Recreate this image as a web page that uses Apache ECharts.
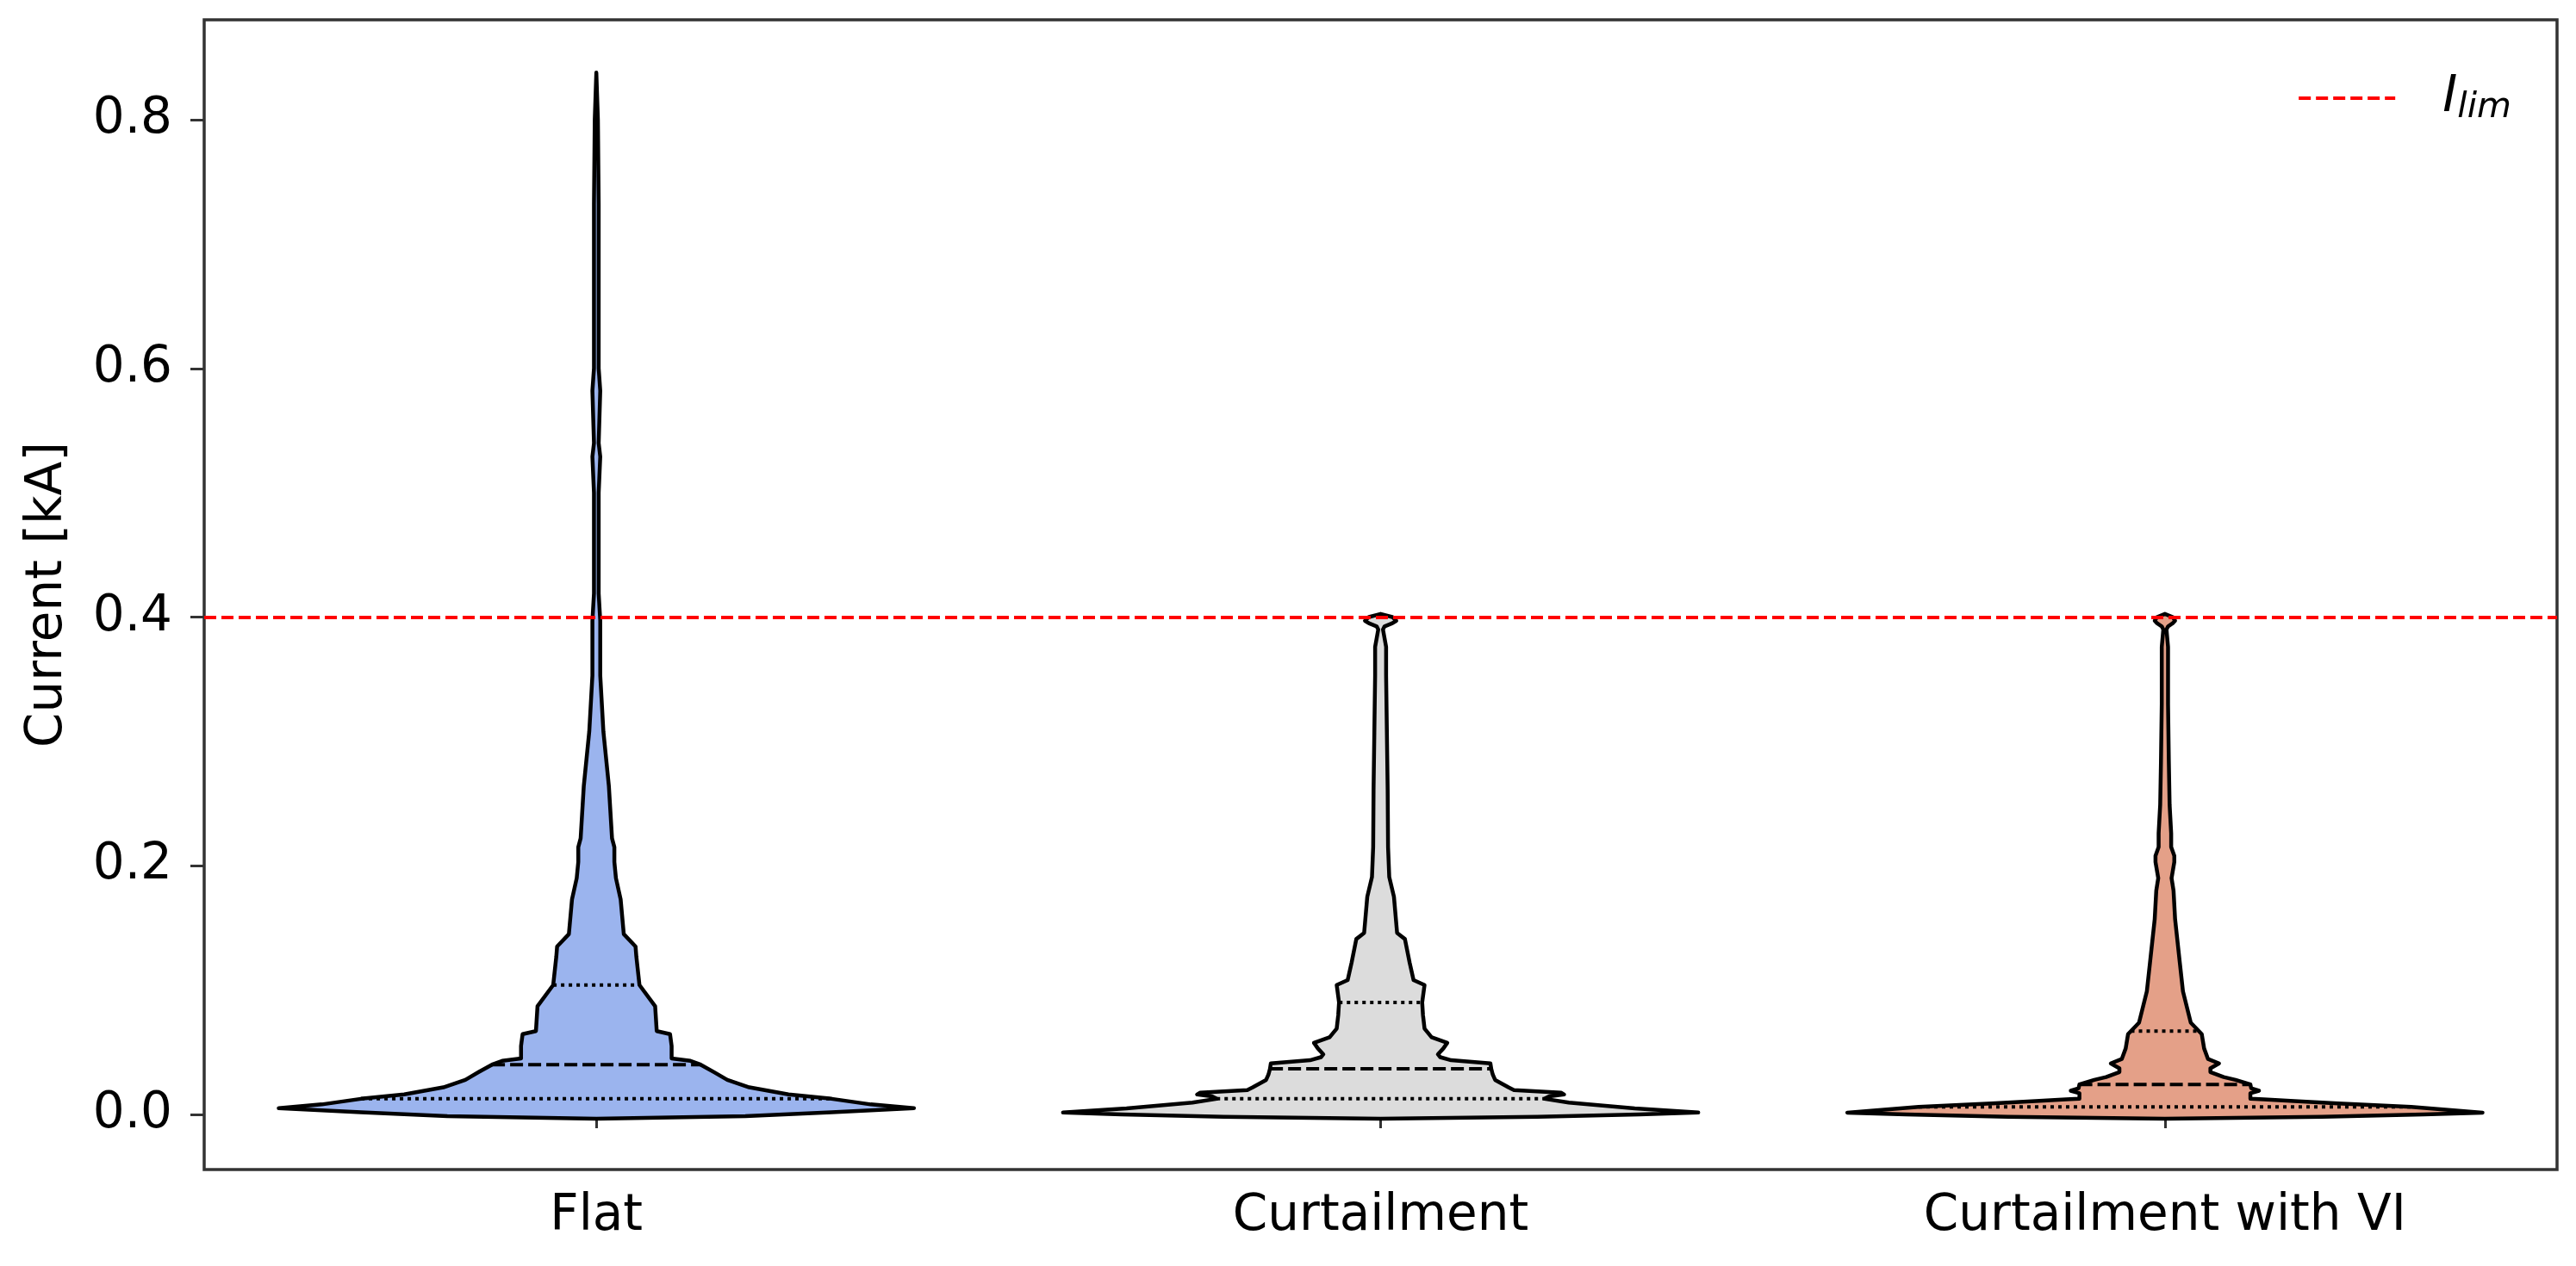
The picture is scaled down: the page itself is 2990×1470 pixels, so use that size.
<!DOCTYPE html>
<html>
<head>
    <meta charset="utf-8">
    <title>Current violins</title>
    <script src="https://cdn.jsdelivr.net/npm/echarts@6/dist/echarts.min.js"></script>
    <style>
        body { margin: 0; background: #fff; }
        #main { width: 2990px; height: 1470px; }
    </style>
</head>
<body>
<div id="main"></div>
<script>
// categories
const scenarios = ['Flat', 'Curtailment', 'Curtailment with VI'];
const fillColors = ['#9bb4ee', '#dcdcdc', '#e4a088'];
const yTicks = [0.0, 0.2, 0.4, 0.6, 0.8];
const iLim = 0.4;

// violin outlines: current value [kA] and half width (fraction of category band)
const flatY = [-0.0035, -0.0014, 0.0016, 0.005, 0.008, 0.0125, 0.016, 0.0217, 0.0277, 0.034, 0.040, 0.043, 0.045,
  0.055, 0.0645, 0.067, 0.087, 0.104, 0.127, 0.135, 0.145, 0.173, 0.19, 0.203, 0.215, 0.222, 0.264, 0.308,
  0.353, 0.397, 0.419, 0.50, 0.529, 0.54, 0.582, 0.60, 0.662, 0.732, 0.80, 0.838];
const flatW = [0, 0.19, 0.30, 0.405, 0.35, 0.30, 0.245, 0.195, 0.167, 0.15, 0.133, 0.12, 0.096,
  0.096, 0.094, 0.077, 0.075, 0.055, 0.051, 0.050, 0.035, 0.031, 0.025, 0.023, 0.023, 0.02, 0.016, 0.009,
  0.005, 0.005, 0.003, 0.003, 0.005, 0.003, 0.005, 0.003, 0.003, 0.003, 0.002, 0];
const flatQ = [0.0125, 0.040, 0.104];

const curtY = [-0.0035, -0.002, 0.0, 0.0015, 0.0048, 0.0094, 0.0125, 0.0145, 0.016, 0.0175, 0.0195, 0.0217, 0.0277,
  0.032, 0.0367, 0.041, 0.0435, 0.046, 0.0483, 0.053, 0.0575, 0.062, 0.069, 0.080, 0.090, 0.104, 0.108, 0.122,
  0.141, 0.146, 0.175, 0.191, 0.215, 0.261, 0.307, 0.353, 0.376, 0.390, 0.3925, 0.395, 0.397, 0.400, 0.4025];
const curtW = [0, 0.2, 0.33, 0.405, 0.324, 0.24, 0.209, 0.215, 0.234, 0.23, 0.17, 0.163, 0.146,
  0.143, 0.141, 0.14, 0.09, 0.076, 0.073, 0.08, 0.085, 0.065, 0.056, 0.054, 0.053, 0.056, 0.042, 0.037,
  0.031, 0.021, 0.017, 0.011, 0.0095, 0.009, 0.008, 0.007, 0.007, 0.003, 0.005, 0.015, 0.02, 0.015, 0];
const curtQ = [0.0125, 0.0367, 0.090];

const viY = [-0.0035, -0.002, 0.0, 0.0014, 0.006, 0.0087, 0.0106, 0.012, 0.0125, 0.017, 0.019, 0.021, 0.024,
  0.0277, 0.030, 0.034, 0.037, 0.041, 0.0445, 0.053, 0.0645, 0.0737, 0.099, 0.122, 0.157, 0.180, 0.19,
  0.203, 0.208, 0.215, 0.226, 0.249, 0.284, 0.33, 0.376, 0.390, 0.3925, 0.395, 0.397, 0.400, 0.4025];
const viW = [0, 0.2, 0.33, 0.405, 0.314, 0.221, 0.165, 0.126, 0.109, 0.109, 0.12, 0.11, 0.109,
  0.09, 0.075, 0.058, 0.058, 0.069, 0.055, 0.050, 0.047, 0.033, 0.023, 0.019, 0.013, 0.011, 0.0085,
  0.012, 0.012, 0.008, 0.008, 0.006, 0.005, 0.004, 0.004, 0.002, 0.004, 0.010, 0.013, 0.010, 0];
const viQ = [0.006, 0.024, 0.067];

const profY = [flatY, curtY, viY];
const profW = [flatW, curtW, viW];
const quartiles = [flatQ, curtQ, viQ];

function widthAt(ys, ws, v) {
  for (let k = 1; k < ys.length; k++) {
    if (v <= ys[k]) {
      const t = (v - ys[k - 1]) / (ys[k] - ys[k - 1]);
      return ws[k - 1] + t * (ws[k] - ws[k - 1]);
    }
  }
  return 0;
}

function renderViolin(params, api) {
  const i = api.value(0);
  const ys = profY[i], ws = profW[i];
  const cx = api.coord([i, 0])[0];
  const band = api.size([1, 0])[0];
  const right = [], left = [];
  for (let k = 0; k < ys.length; k++) {
    const py = api.coord([i, ys[k]])[1];
    right.push([cx + ws[k] * band, py]);
    left.push([cx - ws[k] * band, py]);
  }
  const pts = right.concat(left.reverse());
  const children = [{
    type: 'polygon',
    shape: { points: pts },
    style: { fill: fillColors[i], stroke: '#000', lineWidth: 4.5, lineJoin: 'round' }
  }];
  quartiles[i].forEach((q, j) => {
    const w = widthAt(ys, ws, q) * band;
    const py = api.coord([i, q])[1];
    children.push({
      type: 'line',
      shape: { x1: cx - w, y1: py, x2: cx + w, y2: py },
      style: { stroke: '#000', lineWidth: 4, lineDash: j === 1 ? [15, 6] : [4, 5] }
    });
  });
  return { type: 'group', children: children };
}

const fontFam = 'DejaVu Sans';
const limStyle = { color: '#ff0000', type: [14, 6], width: 4 };

const option = {
  animation: false,
  grid: {
    left: 237, right: 22, top: 23, bottom: 112,
    show: true, borderColor: '#333', borderWidth: 3.5, backgroundColor: 'transparent'
  },
  legend: {
    data: ['I_lim'],
    right: 70,
    top: 80,
    itemWidth: 112,
    itemHeight: 20,
    itemStyle: { opacity: 0 },
    lineStyle: limStyle,
    formatter: () => '{i|I}{s|lim}',
    textStyle: {
      padding: [0, 0, 0, 50],
      rich: {
        i: { fontFamily: fontFam, fontStyle: 'italic', fontSize: 58, color: '#000' },
        s: { fontFamily: fontFam, fontStyle: 'italic', fontSize: 41, color: '#000', padding: [22, 0, 0, 0] }
      }
    }
  },
  xAxis: {
    type: 'category',
    data: scenarios,
    boundaryGap: true,
    axisLine: { show: false },
    axisTick: { show: true, alignWithLabel: true, length: 16, lineStyle: { color: '#333', width: 3 } },
    axisLabel: { fontFamily: fontFam, fontSize: 58, color: '#000', margin: 26 },
    splitLine: { show: false }
  },
  yAxis: {
    type: 'value',
    min: -0.0444,
    max: 0.8804,
    name: 'Current [kA]',
    nameLocation: 'middle',
    nameGap: 152,
    nameTextStyle: { fontFamily: fontFam, fontSize: 58, color: '#000' },
    axisLine: { show: false },
    axisTick: { show: true, length: 16, customValues: yTicks, lineStyle: { color: '#333', width: 3 } },
    axisLabel: {
      fontFamily: fontFam, fontSize: 58, color: '#000', margin: 37,
      customValues: yTicks,
      formatter: v => v.toFixed(1)
    },
    splitLine: { show: false }
  },
  series: [
    {
      name: 'violins',
      type: 'custom',
      renderItem: renderViolin,
      data: scenarios.map((s, i) => [i]),
      encode: { x: 0 },
      silent: true
    },
    {
      name: 'I_lim',
      type: 'line',
      data: [],
      symbol: 'none',
      showSymbol: false,
      lineStyle: limStyle,
      itemStyle: { color: '#ff0000' },
      markLine: {
        silent: true,
        symbol: ['none', 'none'],
        label: { show: false },
        lineStyle: limStyle,
        data: [{ yAxis: iLim }]
      }
    }
  ]
};

const chart = echarts.init(document.getElementById('main'));
chart.setOption(option);
window.addEventListener('resize', () => chart.resize());
</script>
</body>
</html>
